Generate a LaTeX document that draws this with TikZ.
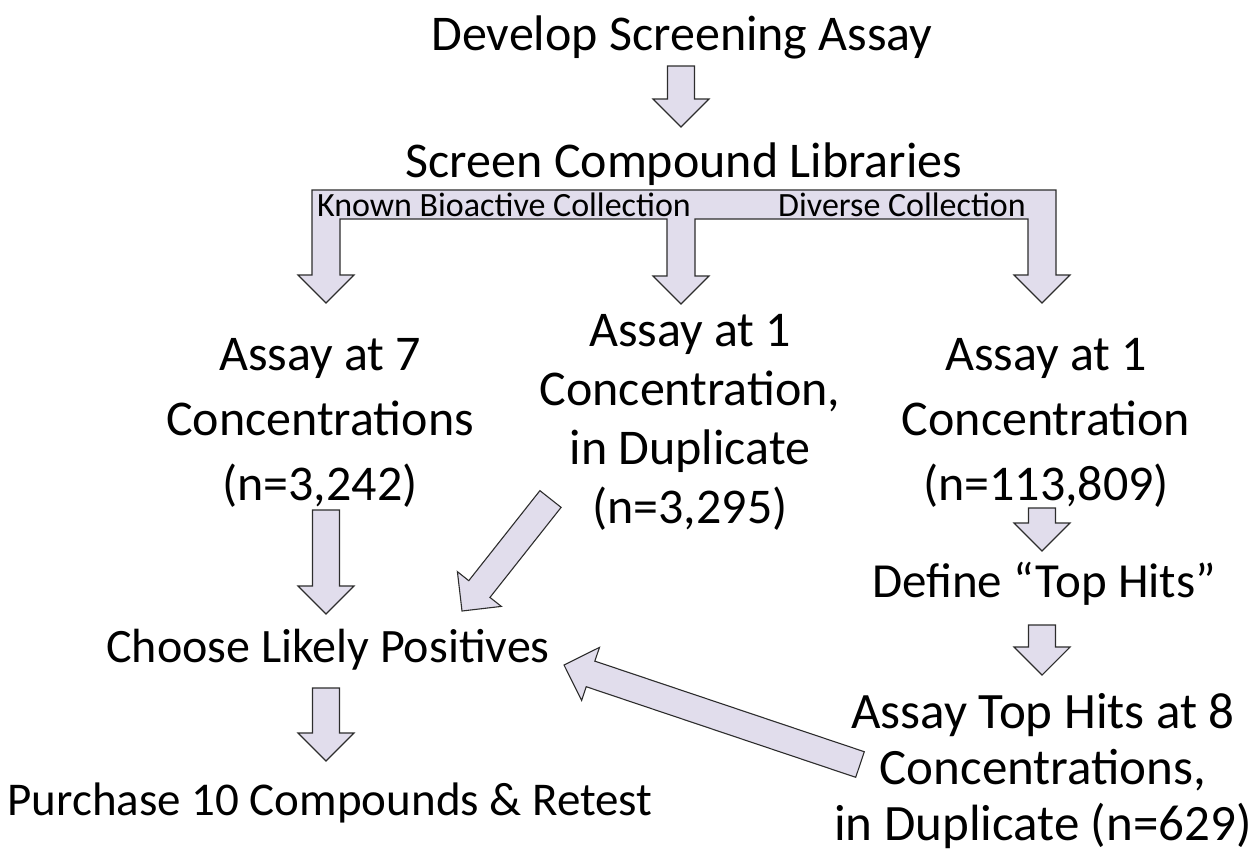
\documentclass[tikz,border=0pt]{standalone}
\usepackage{fontspec}
\setmainfont{Carlito}
\usetikzlibrary{positioning, calc}

\definecolor{arrowfill}{RGB}{225,221,236}
\definecolor{arrowline}{RGB}{45,45,45}

\begin{document}
\begin{tikzpicture}[
    x=1pt, y=-1pt,
    % Estilos
    titulo/.style={anchor=base, font=\fontsize{50}{58}\selectfont},
    paso/.style={anchor=base, align=center, inner sep=0pt},
    rotulo/.style={anchor=base, font=\fontsize{34}{40}\selectfont, inner sep=0pt},
    bloque/.style={fill=arrowfill, draw=arrowline, line width=1.1pt, line join=miter}
    ]
    \useasboundingbox (0,0) rectangle (1257,854);

    % Textos
    \node[titulo, inner sep=0pt] (develop) at (682,50) {Develop Screening Assay};
    \node[titulo, inner sep=0pt] (screen) at (684,177) {Screen Compound Libraries};

    % Barra de colecciones con tres flechas
    \draw[bloque] (312,190) -- (1056,190) -- (1056,275) -- (1070,275) -- (1042,303)
        -- (1014,275) -- (1028,275) -- (1028,219) -- (695,219) -- (695,276)
        -- (709,276) -- (681,304) -- (653,276) -- (667,276) -- (667,219)
        -- (340,219) -- (340,275) -- (354,275) -- (326,303) -- (298,275)
        -- (312,275) -- cycle;
    \node[rotulo] (bioactive) at (504,216) {Known Bioactive Collection};
    \node[rotulo] (diverse) at (902,216) {Diverse Collection};

    % la base de un nodo de varias lineas es la ultima linea
    \node[paso, font=\fontsize{50}{65}\selectfont] (siete) at (320,500)
        {Assay at 7\\Concentrations\\(n=3,242)};
    \node[paso, font=\fontsize{50}{59}\selectfont] (duplicado) at (690,523)
        {Assay at 1\\Concentration,\\in Duplicate\\(n=3,295)};
    \node[paso, font=\fontsize{50}{65}\selectfont] (uno) at (1046,500)
        {Assay at 1\\Concentration\\(n=113,809)};
    \node[paso, font=\fontsize{48}{58}\selectfont] (choose) at (328,662)
        {Choose Likely Positives};
    \node[paso, font=\fontsize{47}{58}\selectfont] (purchase) at (330,815)
        {Purchase 10 Compounds \& Retest};
    \node[paso, font=\fontsize{49}{58}\selectfont] (define) at (1044,597)
        {Define “Top Hits”};
    \node[paso, font=\fontsize{51}{56}\selectfont] (tophits) at (1043,840)
        {Assay Top Hits at 8\\Concentrations,\\in Duplicate (n=629)};

    % Extremos de las flechas
    \coordinate (a1) at (681,66);    \coordinate (b1) at (681,127);
    \coordinate (a2) at (326,510);   \coordinate (b2) at (326,614);
    \coordinate (a3) at (550.5,499); \coordinate (b3) at (462,611);
    \coordinate (a4) at (326,688);   \coordinate (b4) at (326,761);
    \coordinate (a5) at (1042,508);  \coordinate (b5) at (1042,551);
    \coordinate (a6) at (1042,625);  \coordinate (b6) at (1042,675);
    \coordinate (a7) at (860,764.5); \coordinate (b7) at (564,665);

    % Flechas de bloque
    \foreach \i in {1,...,7}{
        \coordinate (h) at ($(b\i)!28pt!(a\i)$);
        \draw[bloque] ($(a\i)!13.5pt!90:(b\i)$) -- ($(h)!13.5pt!-90:(a\i)$)
            -- ($(h)!28pt!-90:(a\i)$) -- (b\i) -- ($(h)!28pt!90:(a\i)$)
            -- ($(h)!13.5pt!90:(a\i)$) -- ($(a\i)!13.5pt!-90:(b\i)$) -- cycle;
    }
\end{tikzpicture}
\end{document}
